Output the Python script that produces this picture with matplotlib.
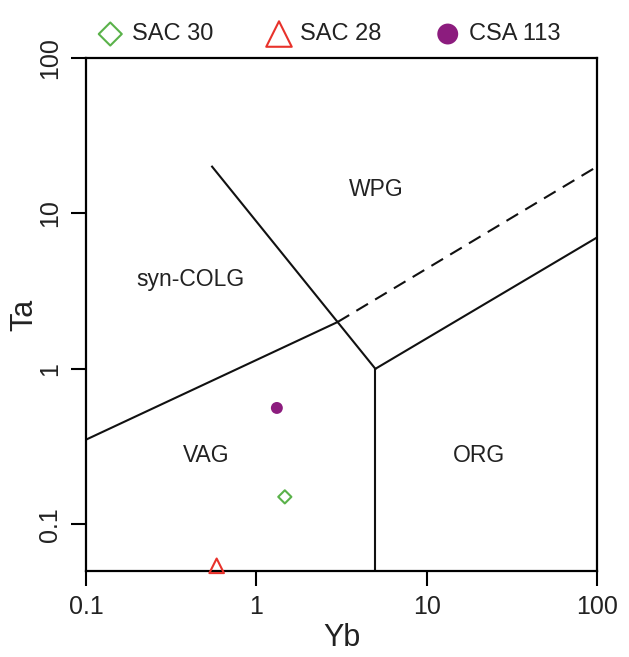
import numpy as np
import matplotlib
matplotlib.use('Agg')
import matplotlib.pyplot as plt

plt.rcParams['font.family'] = ['Liberation Sans', 'DejaVu Sans']

# field boundaries (Pearce et al. 1984, Ta-Yb)
line_vag_yb = [0.1, 3]
line_vag_ta = [0.35, 2]
line_dash_yb = [3, 100]
line_dash_ta = [2, 20]
line_diag_yb = [0.55, 5]
line_diag_ta = [20, 1]
line_vert_yb = [5, 5]
line_vert_ta = [0.05, 1]
line_org_yb = [5, 100]
line_org_ta = [1, 7]

# field names
field_names = ['WPG', 'syn-COLG', 'VAG', 'ORG']
field_yb = [5.05, 0.41, 0.51, 20.3]
field_ta = [14.3, 3.75, 0.277, 0.275]

# samples
sample_names = ['SAC 30', 'SAC 28', 'CSA 113']
sample_yb = [1.47, 0.585, 1.32]
sample_ta = [0.15, 0.054, 0.56]

txt = '#222222'

fig = plt.figure(figsize=(6.29, 6.57), dpi=100)
ax = fig.add_axes([0.1367, 0.1309, 0.8124, 0.7808])
ax.set_xscale('log')
ax.set_yscale('log')
ax.set_xlim(0.1, 100)
ax.set_ylim(0.05, 100)

lw = 1.5
ax.plot(line_vag_yb, line_vag_ta, color='#111111', lw=lw)
ax.plot(line_dash_yb, line_dash_ta, color='#111111', lw=lw, dashes=(6.5, 4))
ax.plot(line_diag_yb, line_diag_ta, color='#111111', lw=lw)
ax.plot(line_vert_yb, line_vert_ta, color='#111111', lw=lw)
ax.plot(line_org_yb, line_org_ta, color='#111111', lw=lw)

for name, x, y in zip(field_names, field_yb, field_ta):
    ax.text(x, y, name, fontsize=16.5, color=txt, ha='center', va='center')

ax.scatter(sample_yb[0], sample_ta[0], marker='D', s=45, facecolors='none',
           edgecolors='#5ab24a', linewidths=1.5, label=sample_names[0], zorder=3)
ax.scatter(sample_yb[1], sample_ta[1], marker='^', s=110, facecolors='none',
           edgecolors='#e8322b', linewidths=1.5, label=sample_names[1], zorder=3,
           clip_on=False)
ax.scatter(sample_yb[2], sample_ta[2], marker='o', s=74, color='#8c1c7e',
           edgecolors='none', label=sample_names[2], zorder=3)

ax.set_xticks([0.1, 1, 10, 100])
ax.set_xticklabels(['0.1', '1', '10', '100'])
ax.set_yticks([0.1, 1, 10, 100])
ax.set_yticklabels(['0.1', '1', '10', '100'])
ax.minorticks_off()
ax.tick_params(length=10.5, width=1.5, labelsize=18, labelcolor=txt, pad=7)
plt.setp(ax.get_yticklabels(), rotation=90, va='center')
for sp in ax.spines.values():
    sp.set_linewidth(1.6)

ax.set_xlabel('Yb', fontsize=22, color=txt, labelpad=3)
ax.set_ylabel('Ta', fontsize=22, color=txt, labelpad=-1)

fig.legend(loc='upper left', bbox_to_anchor=(0.119, 0.997), ncol=3, frameon=False,
           fontsize=17, markerscale=1.75, handletextpad=0.3, columnspacing=2.2,
           handlelength=1.2, labelcolor=txt)

fig.savefig('out.png', dpi=100)
